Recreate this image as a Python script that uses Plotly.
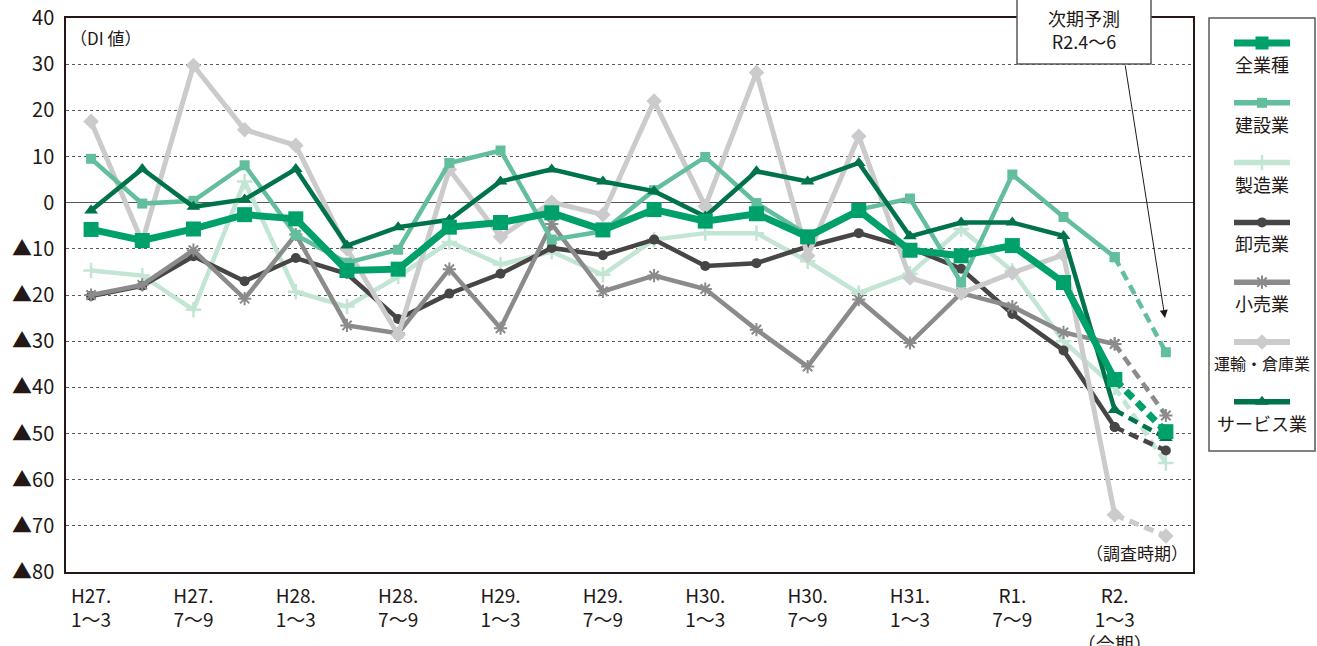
import plotly.graph_objects as go

# ---------------- data ----------------
categories = [
    "H27.1〜3", "H27.4〜6", "H27.7〜9", "H27.10〜12",
    "H28.1〜3", "H28.4〜6", "H28.7〜9", "H28.10〜12",
    "H29.1〜3", "H29.4〜6", "H29.7〜9", "H29.10〜12",
    "H30.1〜3", "H30.4〜6", "H30.7〜9", "H30.10〜12",
    "H31.1〜3", "R1.4〜6", "R1.7〜9", "R1.10〜12",
    "R2.1〜3", "R2.4〜6",
]
tick_positions = categories[0:21:2]
tick_labels = [
    "H27.<br>1〜3", "H27.<br>7〜9", "H28.<br>1〜3", "H28.<br>7〜9",
    "H29.<br>1〜3", "H29.<br>7〜9", "H30.<br>1〜3", "H30.<br>7〜9",
    "H31.<br>1〜3", "R1.<br>7〜9", "R2.<br>1〜3<br>（今期）",
]
y_ticks = [40, 30, 20, 10, 0, -10, -20, -30, -40, -50, -60, -70, -80]
y_tick_text = [str(v) if v >= 0 else "▲" + str(-v) for v in y_ticks]

all_industries = [-5.8, -8.2, -5.7, -2.6, -3.5, -14.7, -14.4, -5.3, -4.3, -2.2, -5.9,
                  -1.5, -4.0, -2.4, -7.4, -1.7, -10.3, -11.5, -9.3, -17.3, -38.3, -49.6]
construction = [9.5, -0.2, 0.4, 8.1, -7.0, -13.0, -10.2, 8.6, 11.3, -8.0, -6.2,
                2.7, 9.9, -0.1, -7.0, -1.5, 0.9, -17.3, 6.1, -3.1, -11.8, -32.4]
manufacturing = [-14.7, -15.8, -23.2, 4.6, -19.3, -22.5, -16.0, -8.5, -13.4, -10.6, -15.6,
                 -8.0, -6.6, -6.6, -12.7, -19.6, -15.4, -5.7, -14.8, -30.0, -40.0, -56.4]
wholesale = [-20.2, -18.0, -11.6, -17.0, -12.0, -15.4, -25.2, -19.7, -15.4, -9.8, -11.4,
             -8.0, -13.7, -13.1, -9.5, -6.6, -9.8, -14.3, -24.1, -32.0, -48.6, -53.7]
retail = [-20.0, -17.8, -10.3, -20.8, -6.9, -26.6, -28.3, -14.4, -27.2, -4.6, -19.2,
          -15.8, -18.7, -27.5, -35.5, -21.0, -30.4, -19.6, -22.5, -28.1, -30.6, -46.1]
transport = [17.6, -8.5, 29.7, 15.8, 12.4, -10.0, -28.6, 7.2, -7.4, 0.1, -2.6,
             22.0, -0.8, 28.2, -11.5, 14.4, -16.3, -19.6, -15.2, -11.3, -67.6, -72.2]
services = [-1.7, 7.3, -0.9, 0.7, 7.3, -9.3, -5.3, -3.7, 4.6, 7.2, 4.6,
            2.5, -3.0, 6.8, 4.6, 8.6, -7.3, -4.3, -4.3, -7.2, -44.9, -51.0]

# values, color, line width, marker symbol, marker size, marker line width
series = {
    "全業種": (all_industries, "#00a06b", 7, "square", 15, 0),
    "建設業": (construction, "#62be9c", 4.5, "square", 10, 0),
    "製造業": (manufacturing, "#c3e5d3", 4.5, "cross-thin-open", 11, 2.5),
    "卸売業": (wholesale, "#474545", 4.5, "circle", 10, 0),
    "小売業": (retail, "#8b8b8b", 4.5, "asterisk-open", 11, 2),
    "運輸・倉庫業": (transport, "#cbcbcd", 5, "diamond", 12, 0),
    "サービス業": (services, "#00734b", 4.5, "triangle-up", 12, 0),
}
legend_order = ["全業種", "建設業", "製造業", "卸売業", "小売業", "運輸・倉庫業", "サービス業"]
draw_order = ["製造業", "卸売業", "小売業", "運輸・倉庫業", "建設業", "サービス業", "全業種"]

FONT = "Noto Sans CJK JP, Noto Sans, sans-serif"
TXT = "#231815"

fig = go.Figure()


def marker_of(color, symbol, size, lw):
    m = dict(symbol=symbol, size=size, color=color)
    if lw:
        m["line"] = dict(color=color, width=lw)
    else:
        m["line"] = dict(width=0)
    return m


for name in draw_order:
    vals, color, width, symbol, size, lw = series[name]
    fig.add_trace(go.Scatter(
        x=categories[:21], y=vals[:21], mode="lines+markers", name=name,
        line=dict(color=color, width=width),
        marker=marker_of(color, symbol, size, lw), showlegend=False,
        xaxis="x", yaxis="y"))
    fig.add_trace(go.Scatter(
        x=categories[20:], y=vals[20:], mode="lines+markers", name=name + "（予測）",
        line=dict(color=color, width=width, dash="10px,6px"),
        marker=marker_of(color, symbol, size, lw), showlegend=False,
        xaxis="x", yaxis="y"))

# ---------------- custom legend (sample above text) ----------------
annotations = []
leg_top, leg_step = 43, 59.8
for i, name in enumerate(legend_order):
    vals, color, width, symbol, size, lw = series[name]
    ly = leg_top + i * leg_step
    fig.add_trace(go.Scatter(
        x=[1234, 1290], y=[ly, ly], mode="lines",
        line=dict(color=color, width=min(width + 1, 7)), showlegend=False,
        hoverinfo="skip", xaxis="x2", yaxis="y2"))
    fig.add_trace(go.Scatter(
        x=[1262], y=[ly], mode="markers",
        marker=marker_of(color, symbol, min(size, 13), lw), showlegend=False,
        hoverinfo="skip", xaxis="x2", yaxis="y2"))
    annotations.append(dict(
        x=1262, y=ly + 21, xref="x2", yref="y2", text=name, showarrow=False,
        font=dict(family=FONT, size=16 if len(name) > 5 else 18, color=TXT),
        xanchor="center", yanchor="middle"))

W, H = 1317, 646
ML, MR, MT, MB = 66, 2, 18, 74
PW, PH = W - ML - MR, H - MT - MB


def px_x(p):
    return (p - ML) / PW


def px_y(p):
    return (H - MB - p) / PH


annotations += [
    dict(x=px_x(68), y=px_y(38), xref="paper", yref="paper", text="（DI 値）",
         showarrow=False, xanchor="left", yanchor="middle",
         font=dict(family=FONT, size=17, color=TXT)),
    dict(x=px_x(1190), y=px_y(552), xref="paper", yref="paper", text="（調査時期）",
         showarrow=False, xanchor="right", yanchor="middle",
         font=dict(family=FONT, size=17, color=TXT)),
    dict(x=px_x(1084), y=px_y(30), xref="paper", yref="paper", text="次期予測<br>R2.4〜6",
         showarrow=False, xanchor="center", yanchor="middle",
         font=dict(family=FONT, size=18, color=TXT)),
    dict(x=px_x(1165), y=px_y(318), xref="paper", yref="paper", text="",
         showarrow=True, ax=-40, ay=-254, arrowhead=2, arrowsize=1.6, arrowwidth=1,
         arrowcolor=TXT),
]

shapes = [
    dict(type="rect", xref="paper", yref="paper",
         x0=px_x(1017), x1=px_x(1151), y0=px_y(64), y1=px_y(-10),
         fillcolor="white", line=dict(color="#595757", width=1.5), layer="above"),
    dict(type="rect", xref="paper", yref="paper",
         x0=px_x(1209), x1=px_x(1315), y0=px_y(451), y1=px_y(18),
         fillcolor="rgba(0,0,0,0)", line=dict(color="#595757", width=1.5), layer="above"),
]

fig.update_layout(
    width=W, height=H,
    margin=dict(l=ML, r=MR, t=MT, b=MB, autoexpand=False),
    paper_bgcolor="white", plot_bgcolor="white",
    font=dict(family=FONT, color=TXT),
    annotations=annotations, shapes=shapes,
    xaxis=dict(
        type="category", categoryorder="array", categoryarray=categories,
        range=[-0.49, 21.53], domain=[0, px_x(1193)], automargin=False,
        tickmode="array", tickvals=tick_positions, ticktext=tick_labels,
        tickfont=dict(family=FONT, size=19, color=TXT),
        showgrid=False, showline=True, mirror=True, linecolor=TXT, linewidth=1.5,
        ticks="", ticklabelstandoff=6, zeroline=False, anchor="y"),
    yaxis=dict(
        range=[-80, 40], tickmode="array", tickvals=y_ticks, ticktext=y_tick_text,
        tickfont=dict(family=FONT, size=20, color=TXT), automargin=False,
        showgrid=True, gridcolor="#595757", gridwidth=1, griddash="dot",
        zeroline=True, zerolinecolor="#595757", zerolinewidth=1.3,
        showline=True, mirror=True, linecolor=TXT, linewidth=1.5,
        ticks="", ticklabelstandoff=6, anchor="x"),
    xaxis2=dict(domain=[px_x(1209), px_x(1315)], range=[1209, 1315],
                visible=False, anchor="y2", fixedrange=True),
    yaxis2=dict(domain=[px_y(451), px_y(18)], range=[451, 18],
                visible=False, anchor="x2", fixedrange=True),
)

fig.write_html(
    "out.html",
    config={"displayModeBar": False},
    post_script="document.body.style.margin='0px';document.body.style.overflow='hidden';",
)
